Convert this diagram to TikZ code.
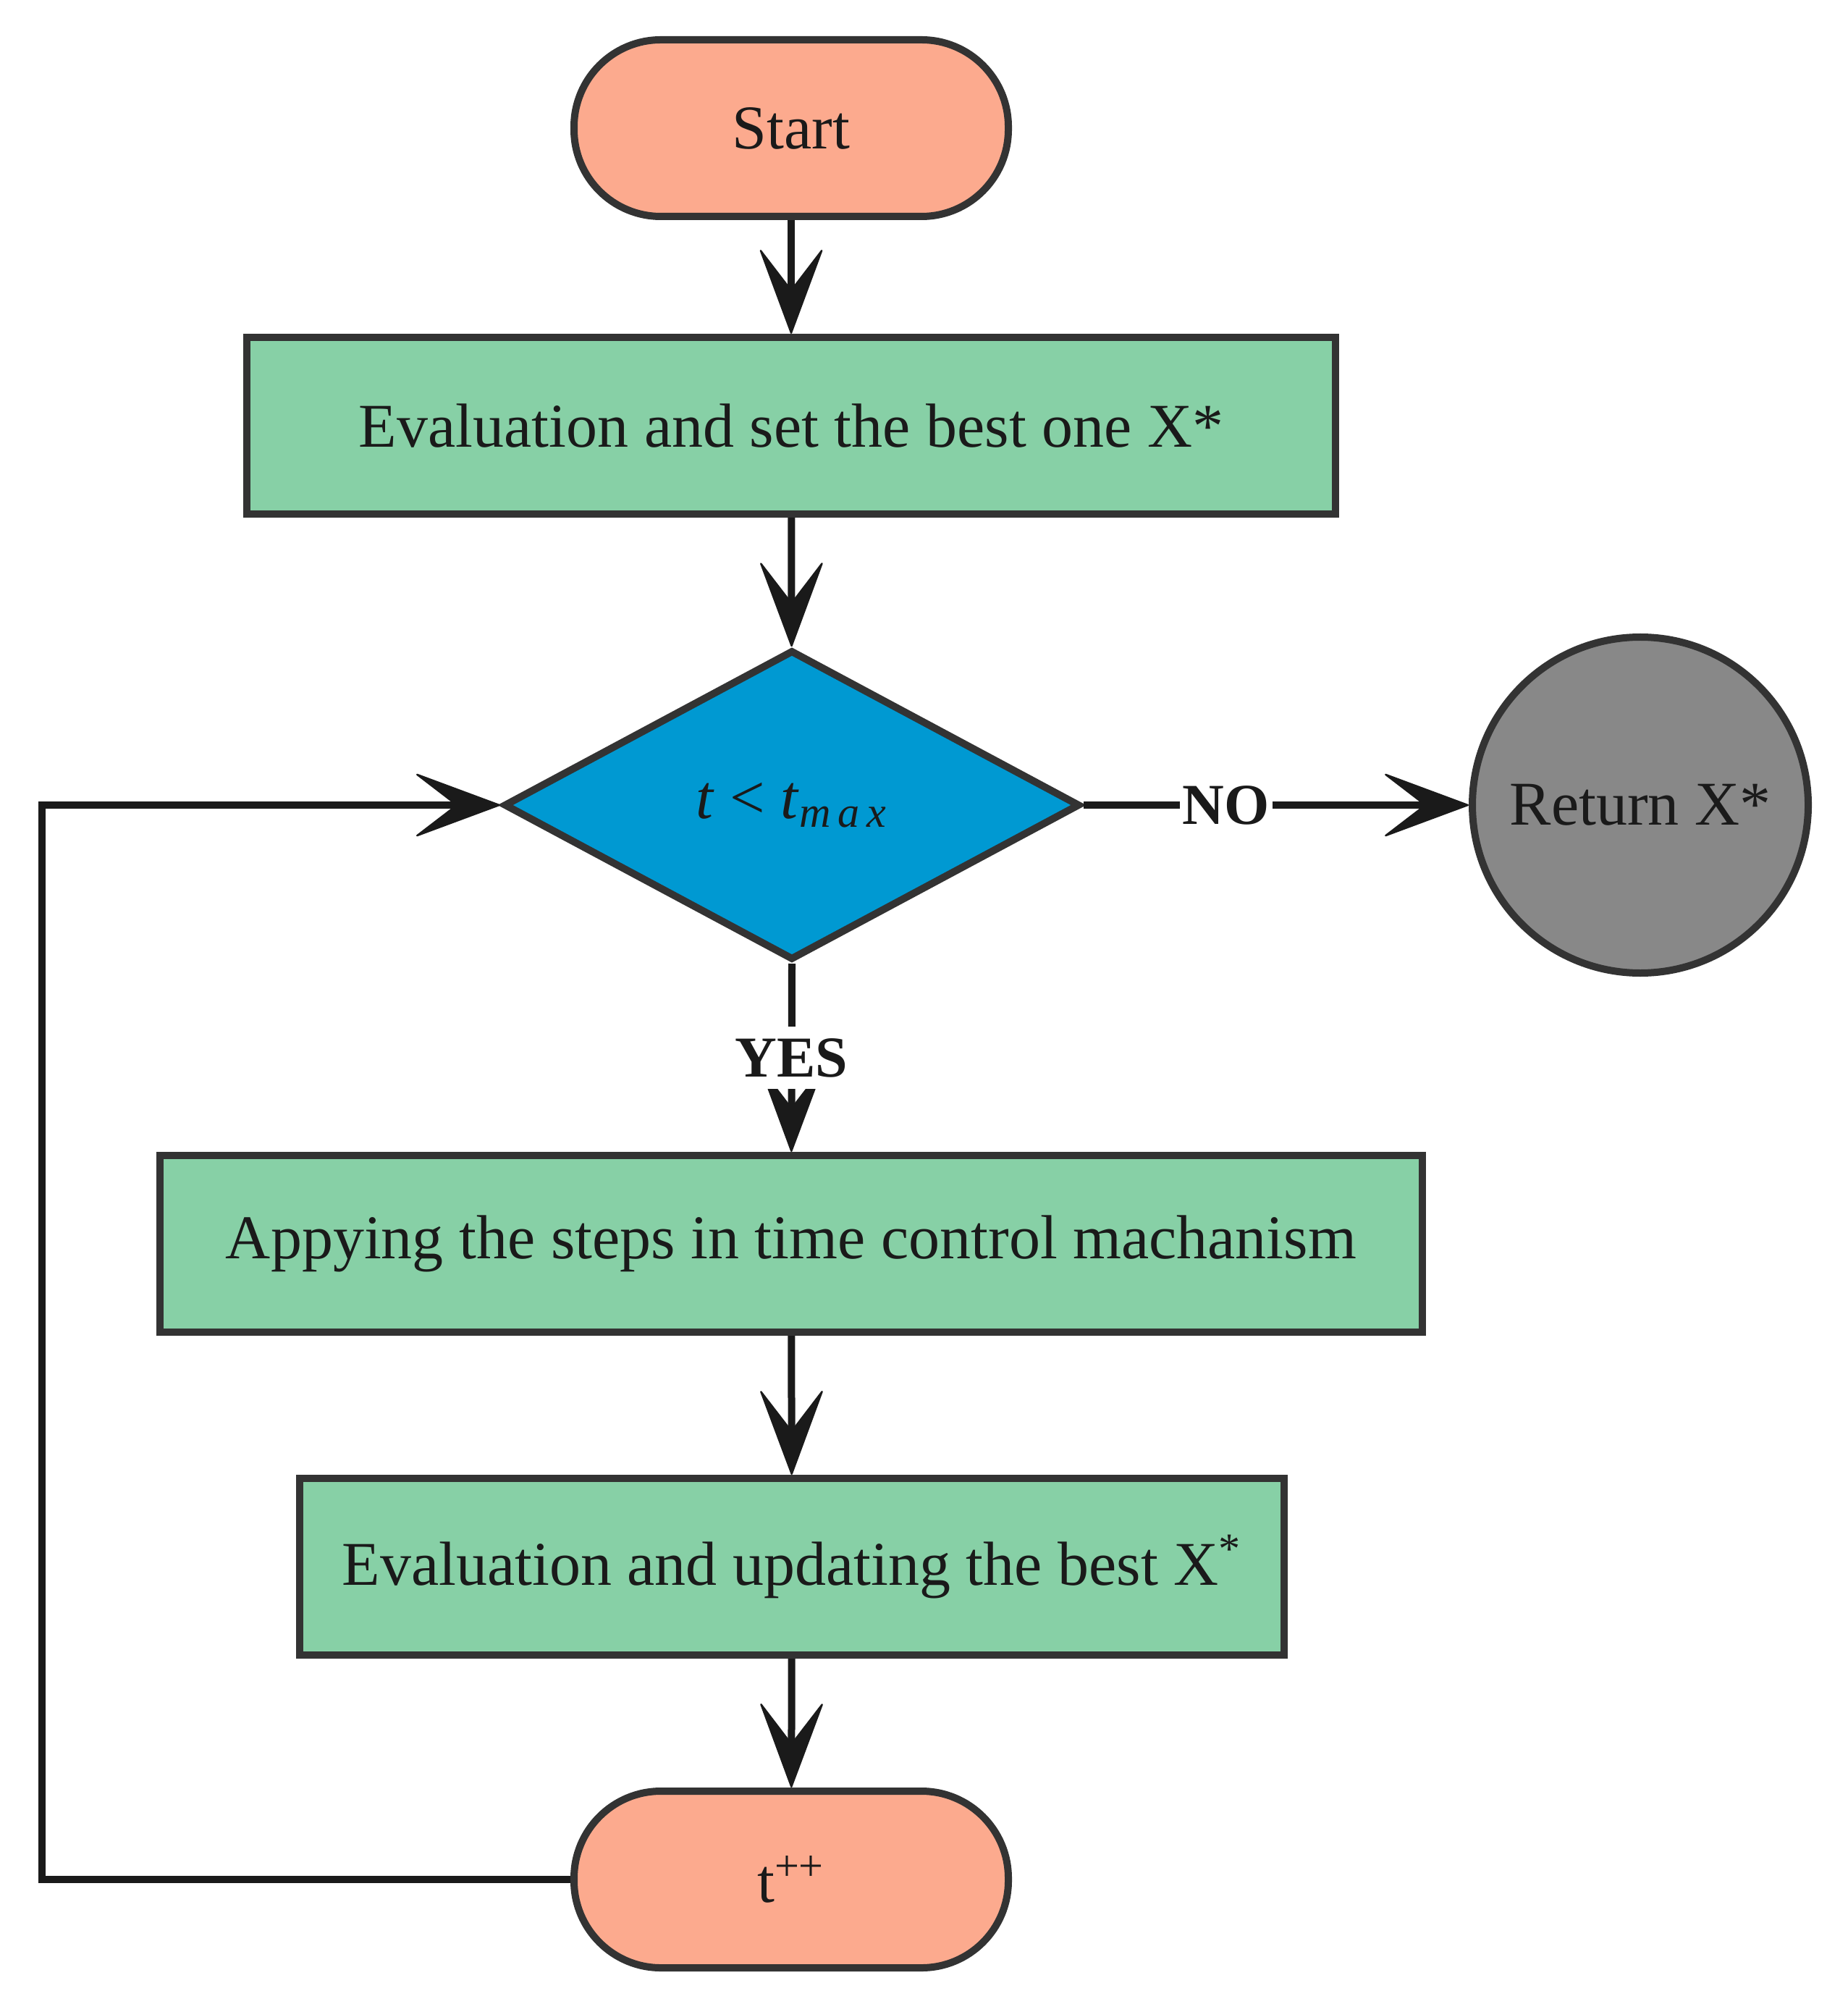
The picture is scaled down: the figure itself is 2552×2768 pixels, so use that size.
\documentclass[tikz,border=0pt]{standalone}
\usepackage{fontspec}
\setmainfont{Liberation Serif}
\usetikzlibrary{shapes.geometric,arrows.meta}

\definecolor{boxline}{RGB}{51,51,51}
\definecolor{arrowline}{RGB}{26,26,26}
\definecolor{termfill}{RGB}{252,170,142}
\definecolor{procfill}{RGB}{135,208,166}
\definecolor{decfill}{RGB}{0,153,210}
\definecolor{endfill}{RGB}{136,136,136}

\tikzset{every picture/.style={line width=2.5pt}}
\tikzset{
  every node/.style={text=arrowline, font=\fontsize{21.5}{26}\selectfont},
  terminal/.style={draw=boxline, fill=termfill, rounded corners=30pt,
                   minimum width=150pt, minimum height=61pt},
  process/.style={draw=boxline, fill=procfill, minimum height=61pt},
  decision/.style={diamond, draw=boxline, fill=decfill, aspect=1.9,
                   minimum width=199pt, minimum height=107pt, inner sep=0pt},
  finish/.style={circle, draw=boxline, fill=endfill, minimum size=116pt},
  flow/.style={draw=arrowline,
               -{Stealth[length=31pt, width=23pt, inset=15pt, line width=0.6pt, round]}},
  answer/.style={fill=white, inner xsep=1pt, inner ysep=4pt,
                 font=\fontsize{20}{24}\selectfont\bfseries}
}

\begin{document}
\begin{tikzpicture}[x=0.25pt, y=0.25pt, yscale=-1, xscale=1]

    \useasboundingbox (0,0) rectangle (2552,2768);

    % Boxes
    \node (start)  at (1093, 177)  [terminal] {Start};
    \node (eval)   at (1093, 588)  [process, minimum width=376pt] {Evaluation and set the best one X*};
    \node (dec)    at (1094,1112)  [decision] {\textit{t} < \textit{t}\textsubscript{\textit{m\,a\,x}}};
    \node (ret)    at (2266,1112)  [finish] {Return X*};
    \node (apply)  at (1093,1718)  [process, minimum width=436pt] {Appying the steps in time control machanism};
    \node (update) at (1094,2164)  [process, minimum width=340pt] {Evaluation and updating the best X\textsuperscript{*}};
    \node (tpp)    at (1093,2596)  [terminal] {t\textsuperscript{++}};

    % Corner of the loop back
    \coordinate (bend) at (58,2596);

    % Line Start - Eval
    \draw [flow] (start) -- (eval);

    % Line Eval - Decision
    \draw [flow] (eval) -- (dec);

    % Line Decision - Return
    \draw [flow] (dec.east) -- (ret) node [answer, pos=0.37] (no) {NO};

    % Line Decision - Apply
    \draw [flow] (dec.south) -- (apply) node [answer, midway] (yes) {YES};

    % Line Apply - Update
    \draw [flow] (apply) -- (update);

    % Line Update - t++
    \draw [flow] (update) -- (tpp);

    % Line t++ - Decision
    \draw [flow, line join=miter] (tpp.west) -- (bend) |- (dec.west);

\end{tikzpicture}
\end{document}
